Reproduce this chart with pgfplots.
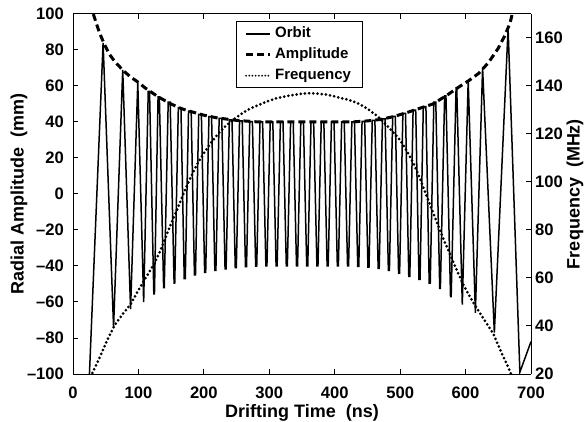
\documentclass[border=0pt]{standalone}
\usepackage{fontspec}
\setmainfont{Liberation Sans}
\usepackage{pgfplots}
\pgfplotsset{compat=1.18}
\begin{document}
\begin{tikzpicture}[font=\bfseries]
\begin{axis}[
  scale only axis, width=229pt, height=180pt,
  xmin=0, xmax=700, ymin=-100, ymax=100,
  axis y line*=left,
  xtick={0,100,...,700}, ytick={-100,-80,...,100},
  yticklabels={\textendash100,\textendash80,\textendash60,\textendash40,\textendash20,0,20,40,60,80,100},
  tick align=inside, major tick length=2.5pt,
  axis line style={line width=0.5pt}, every tick/.style={line width=0.5pt, black},
  /pgf/number format/assume math mode=true,
  tick label style={font=\fontsize{8.3}{9}\selectfont\bfseries},
  xticklabel style={yshift=-3pt},
  yticklabel style={xshift=-1pt},
  xlabel={Drifting Time\ \ (ns)},
  ylabel={Radial Amplitude\ \ (mm)},
  label style={font=\fontsize{9}{10}\selectfont\bfseries},
  xlabel style={at={(axis description cs:0.5,-0.108)}, anchor=center},
  ylabel style={at={(axis description cs:-0.118,0.5)}, anchor=center},
  legend style={at={(0.356,0.981)}, anchor=north west, draw=black, line width=0.5pt,
    font=\fontsize{7.5}{8.5}\selectfont\bfseries, inner xsep=4pt, inner ysep=1pt,
    nodes={inner sep=1.8pt}},
  legend cell align=left,
  legend image code/.code={\draw[#1] (0pt,0pt) -- (12pt,0pt);},
]
\coordinate (sw) at (rel axis cs:0,0);
\coordinate (ne) at (rel axis cs:1,1);
\addplot[black, line width=0.75pt] coordinates {
(24,-110)(46,84)(62,-74)(76,69)(88,-64)(99,62)(108,-60)
(115,57)(117,57)(123.5,-55.5)(124.5,-55.5)
(130,54)(132,54)(138.5,-52)(139.5,-52)
(145.5,51)(148.5,51)(154.5,-49.5)(155.5,-49.5)
(161,48)(165,48)(170,-47)(171.6,-47)
(176.6,46)(180.6,46)(185.6,-45)(187.2,-45)
(192.2,44.3)(196.2,44.3)(201.2,-43.6)(202.8,-43.6)
(207.8,43)(211.8,43)(216.8,-42.4)(218.4,-42.4)
(223.4,42)(227.4,42)(232.4,-41.6)(234.0,-41.6)
(239.0,41.2)(243.0,41.2)(248.0,-40.9)(249.6,-40.9)
(254.6,40.6)(258.6,40.6)(263.6,-40.4)(265.2,-40.4)
(270.2,40.2)(274.2,40.2)(279.2,-40.1)(280.8,-40.1)
(285.8,40)(289.8,40)(294.8,-40)(296.4,-40)
(301.4,40)(305.4,40)(310.4,-40)(312.0,-40)
(317.0,40)(321.0,40)(326.0,-40)(327.6,-40)
(332.6,40)(336.6,40)(341.6,-40)(343.2,-40)
(348.2,40)(352.2,40)(357.2,-40)(358.8,-40)
(363.8,40)(367.8,40)(372.8,-40)(374.4,-40)
(379.4,40)(383.4,40)(388.4,-40)(390.0,-40)
(395.0,40)(399.0,40)(404.0,-40)(405.6,-40)
(410.6,40)(414.6,40)(419.6,-40)(421.2,-40)
(426.2,40.1)(430.2,40.1)(435.2,-40.2)(436.8,-40.2)
(441.8,40.4)(445.8,40.4)(450.8,-40.6)(452.4,-40.6)
(457.4,40.9)(461.4,40.9)(466.4,-41.3)(468.0,-41.3)
(473.0,41.8)(477.0,41.8)(482.0,-42.4)(483.6,-42.4)
(488.6,43.1)(492.6,43.1)(497.6,-43.9)(499.2,-43.9)
(504.2,44.8)(508.2,44.8)(513.2,-45.7)(514.8,-45.7)
(519.8,46.6)(523.8,46.6)(528.8,-47.5)(530.4,-47.5)
(535.4,48.5)(539.4,48.5)(544.4,-49.5)(546.0,-49.5)
(551.5,51)(554.5,51)(560.5,-52.5)(561.5,-52.5)
(568,54.5)(570,54.5)(577,-57)(578,-57)
(585.5,59)(586.5,59)(595,-61.5)(604,63)(615,-66)(626,70)
(644,-77)(665,92)(683,-99)(700,-82)
};
\addlegendentry{Orbit}
\addplot[black, line width=1.5pt, dash pattern=on 3.5pt off 2pt] coordinates {
(29,106)(31,100)(40,90)(47,84)(55,78)(64,73.5)(77,68.5)(88,65)(100,62)(110,59)
(120,56.5)(130,54)(140,52)(150,50)(165,47.5)(180,45.8)(200,43.8)(220,42.3)
(250,40.9)(280,40.1)(300,40)(350,40)(400,40)(430,40.1)(450,40.6)(470,41.4)
(490,43)(510,45.2)(530,47.6)(550,50)(570,54.5)(590,59.5)(605,63)(620,67)
(635,73)(650,81)(660,88)(668,95)(672,101)(674,105)
};
\addlegendentry{Amplitude}
\addlegendimage{black, line width=1pt, dash pattern=on 0pt off 1.6pt, line cap=round}
\addlegendentry{Frequency}
\end{axis}
\begin{axis}[
  scale only axis, width=229pt, height=180pt,
  xmin=0, xmax=700, ymin=20, ymax=170,
  axis y line*=right, axis x line=none,
  ytick={20,40,...,160},
  tick align=inside, major tick length=2.5pt,
  axis line style={line width=0.5pt}, every tick/.style={line width=0.5pt, black},
  /pgf/number format/assume math mode=true,
  tick label style={font=\fontsize{8.3}{9}\selectfont\bfseries},
  yticklabel style={xshift=-1.5pt},
  ylabel={Frequency\ \ (MHz)},
  label style={font=\fontsize{9}{10}\selectfont\bfseries},
  ylabel style={at={(axis description cs:1.096,0.5)}, anchor=center, rotate=0},
]
\addplot[black, line width=1.5pt, dash pattern=on 0pt off 2.1pt, line cap=round] coordinates {
(27,17)(29,20)(41,27)(52,34)(64,40.5)(76,45)(88,49)(100,55)(110,59.5)(122,65)
(133,71)(143,78)(152,84)(160,89)(170,96)(180,102)(190,107.5)(200,112)(210,116)
(220,119.5)(232,123)(245,126)(258,128.5)(270,130.5)(283,132)(296,133.5)(310,134.8)
(323,135.6)(337,136.3)(350,136.8)(362,137)(376,136.8)(390,136.3)(405,135.3)
(420,134.3)(434,133)(450,130.5)(465,127.5)(480,123.5)(490,120.5)(500,117.5)
(510,113)(520,108)(528,103)(535,98)(545,91)(555,84)(565,77)(576,70)(587,63)
(597,57)(607,52)(618,47)(630,42)(642,37)(650,32)(658,27)(665,23)(671,19)(673,17)
};
\end{axis}
\pgfresetboundingbox
\path ([shift={(-36.5pt,-23.5pt)}]sw) rectangle ([shift={(27.5pt,7pt)}]ne);
\end{tikzpicture}
\end{document}
